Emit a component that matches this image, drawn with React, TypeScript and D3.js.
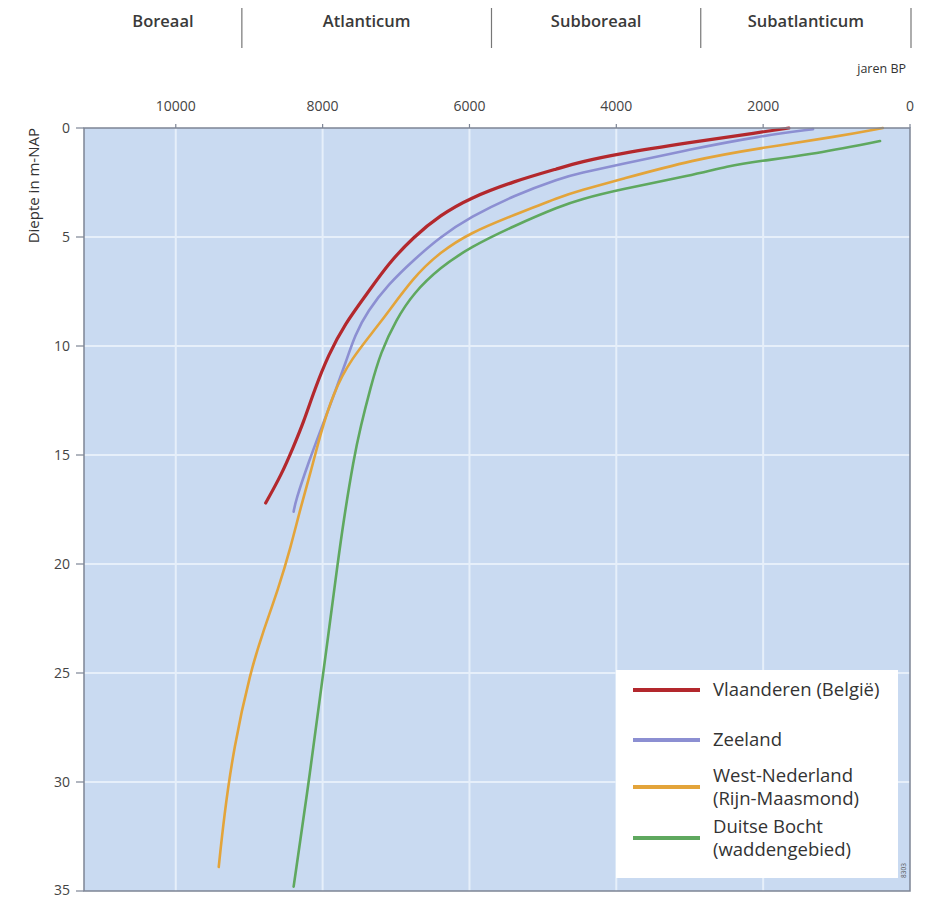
import React from "react";
import * as d3 from "d3";

type Pt = [number, number]; // [jaren BP, diepte m-NAP]

const periodNames = ["Boreaal", "Atlanticum", "Subboreaal", "Subatlanticum"];
const periodBounds = [11250, 9100, 5700, 2850, 0];
const xTicks = [10000, 8000, 6000, 4000, 2000, 0];
const yTicks = [0, 5, 10, 15, 20, 25, 30, 35];

const vlaanderen: Pt[] = [
  [1650, 0], [2040, 0.2], [3000, 0.66], [3986, 1.19], [4490, 1.56], [4762, 1.83],
  [5400, 2.45], [5986, 3.2], [6400, 4.0], [6762, 5.0], [7100, 6.2], [7388, 7.57],
  [7700, 9.0], [7920, 10.4], [8110, 12.0], [8260, 13.5], [8395, 14.6], [8560, 15.9], [8776, 17.2],
];
const zeeland: Pt[] = [
  [1320, 0.05], [2040, 0.37], [3000, 0.98], [3986, 1.7], [4490, 2.06], [4762, 2.3],
  [5400, 3.1], [5986, 4.08], [6400, 5.0], [6762, 6.06], [7100, 7.15], [7388, 8.4],
  [7560, 9.5], [7680, 10.7], [7830, 12.1], [7986, 13.5], [8200, 15.4], [8367, 17.1], [8395, 17.6],
];
const westNederland: Pt[] = [
  [370, 0], [1000, 0.4], [2040, 0.92], [2952, 1.45], [3986, 2.4], [4490, 2.86], [4762, 3.15],
  [5400, 4.0], [5986, 4.8], [6400, 5.7], [6762, 6.83], [7211, 8.94], [7619, 10.6],
  [7860, 12.2], [8027, 14.0], [8163, 15.8], [8299, 17.4], [8440, 19.3], [8600, 21.1],
  [8820, 23.2], [8980, 24.9], [9211, 28.4], [9347, 31.7], [9415, 33.9],
];
const duitseBocht: Pt[] = [
  [408, 0.6], [1401, 1.24], [2040, 1.51], [2490, 1.75], [2952, 2.16], [3986, 2.84],
  [4490, 3.28], [4762, 3.58], [5400, 4.5], [5986, 5.46], [6400, 6.4], [6762, 7.57],
  [7000, 8.8], [7211, 10.3], [7347, 11.9], [7483, 13.7], [7578, 15.2], [7714, 18.0],
  [7796, 20.0], [7932, 23.5], [8000, 25.2], [8163, 29.4], [8395, 34.8],
];

const seriesNames = ["Vlaanderen (België)", "Zeeland", "West-Nederland|(Rijn-Maasmond)", "Duitse Bocht|(waddengebied)"];
const seriesData = [vlaanderen, zeeland, westNederland, duitseBocht];
const seriesColors = ["#b3282d", "#8c8fd2", "#e3a43a", "#5fa85f"];
const seriesWidths = [3.2, 2.6, 2.6, 2.6];

const W = 929, H = 898;
const left = 84, right = 910, top = 128, bottom = 891;
const FONT = "'Open Sans', 'Noto Sans', sans-serif";

export default function App() {
  const x = d3.scaleLinear().domain([11250, 0]).range([left, right]);
  const y = d3.scaleLinear().domain([0, 35]).range([top, bottom]);
  const line = d3.line<Pt>().x((d) => x(d[0])).y((d) => y(d[1])).curve(d3.curveBasis);

  const legendYs = [690, 740, 787, 838];

  return (
    <svg width={W} height={H} style={{ position: "absolute", left: 0, top: 0, background: "#fff" }} fontFamily={FONT}>
      {/* period header */}
      {periodBounds.slice(1).map((b, i) => (
        <line key={"pb" + i} x1={x(b) + (i === 3 ? 1 : 0)} x2={x(b) + (i === 3 ? 1 : 0)} y1={8} y2={48} stroke="#777" strokeWidth={1.2} />
      ))}
      {periodNames.map((n, i) => (
        <text key={n} x={(x(periodBounds[i]) + x(periodBounds[i + 1]) + (i === 3 ? 1 : 0)) / 2} y={27} textAnchor="middle" fontSize={16.5} fontWeight={600} fill="#3a3a3a">
          {n}
        </text>
      ))}
      <text x={906} y={73} textAnchor="end" fontSize={12.5} fill="#333">jaren BP</text>

      {/* plot background */}
      <rect x={left} y={top} width={right - left} height={bottom - top} fill="#c9daf1" />
      {xTicks.filter((t) => t !== 0).map((t) => (
        <line key={"gx" + t} x1={x(t)} x2={x(t)} y1={top} y2={bottom} stroke="#e6effa" strokeWidth={2} />
      ))}
      {yTicks.filter((t) => t !== 0 && t !== 35).map((t) => (
        <line key={"gy" + t} x1={left} x2={right} y1={y(t)} y2={y(t)} stroke="#e6effa" strokeWidth={2} />
      ))}

      {/* series */}
      {seriesData.map((d, i) => (
        <path key={"s" + i} d={line(d) || ""} fill="none" stroke={seriesColors[i]} strokeWidth={seriesWidths[i]} strokeLinecap="round" strokeLinejoin="round" />
      ))}

      {/* frame */}
      <rect x={left} y={top} width={right - left} height={bottom - top} fill="none" stroke="#7d8595" strokeWidth={1.5} />

      {/* top axis */}
      {xTicks.map((t) => (
        <g key={"tx" + t}>
          <line x1={x(t)} x2={x(t)} y1={top - 4} y2={top} stroke="#7d8595" strokeWidth={1.2} />
          <text x={x(t)} y={111} textAnchor="middle" fontSize={14} fill="#444">{t}</text>
        </g>
      ))}

      {/* left axis */}
      {yTicks.map((t) => (
        <g key={"ty" + t}>
          <line x1={left - 8} x2={left} y1={y(t)} y2={y(t)} stroke="#7d8595" strokeWidth={1.2} />
          <text x={70} y={Math.min(y(t) + 5, 895)} textAnchor="end" fontSize={14} fill="#444">{t}</text>
        </g>
      ))}
      <text transform={`translate(39,${top}) rotate(-90)`} textAnchor="end" fontSize={15} fill="#333">Diepte in m-NAP</text>

      {/* legend */}
      <rect x={616} y={670} width={282} height={208} fill="#ffffff" />
      {seriesNames.map((n, i) => {
        const lines = n.split("|");
        const ly = legendYs[i];
        return (
          <g key={"lg" + i}>
            <line x1={633} x2={700} y1={ly} y2={ly} stroke={seriesColors[i]} strokeWidth={4} />
            {lines.map((l, j) => (
              <text key={j} x={713} y={ly + 6 + (lines.length === 2 ? (j === 0 ? -11 : 12) : 0)} fontSize={18.5} fill="#333">
                {l}
              </text>
            ))}
          </g>
        );
      })}
      <text transform={`translate(906,878) rotate(-90)`} fontSize={6.5} fill="#555">8303</text>
    </svg>
  );
}
